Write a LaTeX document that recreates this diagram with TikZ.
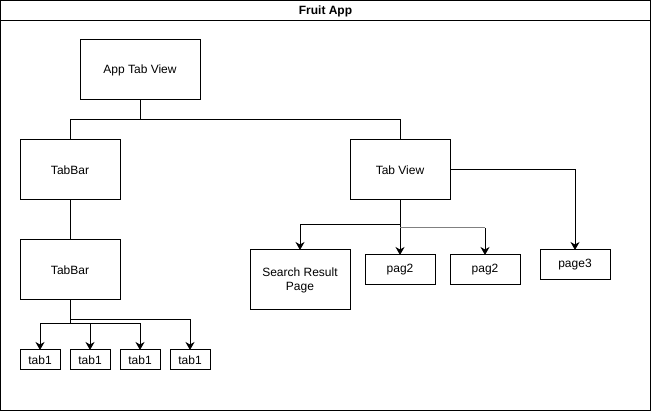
\documentclass[tikz,border=0pt]{standalone}
\usepackage{fontspec}
\setmainfont{Liberation Sans}
\usetikzlibrary{arrows.meta}
\begin{document}
\begin{tikzpicture}[x=1pt,y=-1pt,
  box/.style={draw,line width=1pt,inner sep=0pt,outer sep=0pt,font=\fontsize{12}{14}\selectfont,align=center},
  link/.style={line width=1pt},
  arr/.style={line width=1pt,-{Stealth[length=8pt,width=9pt,inset=2.5pt]}}]
\useasboundingbox (0,0) rectangle (651,411);
% container
\draw[line width=1pt] (0.5,0.5) rectangle (650.5,410.5);
\draw[line width=1pt] (0.5,20.5) -- (650.5,20.5);
\node[font=\bfseries\fontsize{12}{14}\selectfont] (title) at (325.5,11) {Fruit App};
% nodes
\node[box,minimum width=120pt,minimum height=60pt] (app) at (140,70) {App Tab View};
\node[box,minimum width=100pt,minimum height=60pt] (tb1) at (70,170) {TabBar};
\node[box,minimum width=100pt,minimum height=60pt] (tv) at (400,170) {Tab View};
\node[box,minimum width=100pt,minimum height=60pt] (tb2) at (70,270) {TabBar};
\node[box,minimum width=40pt,minimum height=20pt] (t1) at (40,360) {tab1};
\node[box,minimum width=40pt,minimum height=20pt] (t2) at (90,360) {tab1};
\node[box,minimum width=40pt,minimum height=20pt] (t3) at (140,360) {tab1};
\node[box,minimum width=40pt,minimum height=20pt] (t4) at (190,360) {tab1};
\node[box,minimum width=100pt,minimum height=60pt] (srp) at (300,280) {Search Result\\Page};
\node[box,minimum width=70pt,minimum height=30pt] (p2a) at (400,270) {pag2};
\node[box,minimum width=70pt,minimum height=30pt] (p2b) at (485,270) {pag2};
\node[box,minimum width=70pt,minimum height=30pt] (p3) at (575,265) {page3};
% connectors
\draw[link] (app.south) -- ++(0,20) -| (tb1.north);
\draw[link] (app.south) -- ++(0,20) -| (tv.north);
\draw[link] (tb1.south) -- (tb2.north);
\draw[arr] (tb2.south) -- ++(0,24) -| (t1.north);
\draw[arr] (tb2.south) -- ++(0,24) -| (t2.north);
\draw[arr] (tb2.south) -- ++(0,24) -| (t3.north);
\draw[arr] (tb2.south) -- ++(0,20) -| (t4.north);
\draw[arr] (tv.south) -- ++(0,25) -| (srp.north);
\draw[arr] (tv.south) -- (p2a.north);
\draw[link,draw=gray] (tv.south) ++(0,28) -- ++(85,0);
\draw[arr] (tv.south) ++(85,28) -- (p2b.north);
\draw[arr] (tv.east) -| (p3.north);
\end{tikzpicture}
\end{document}
